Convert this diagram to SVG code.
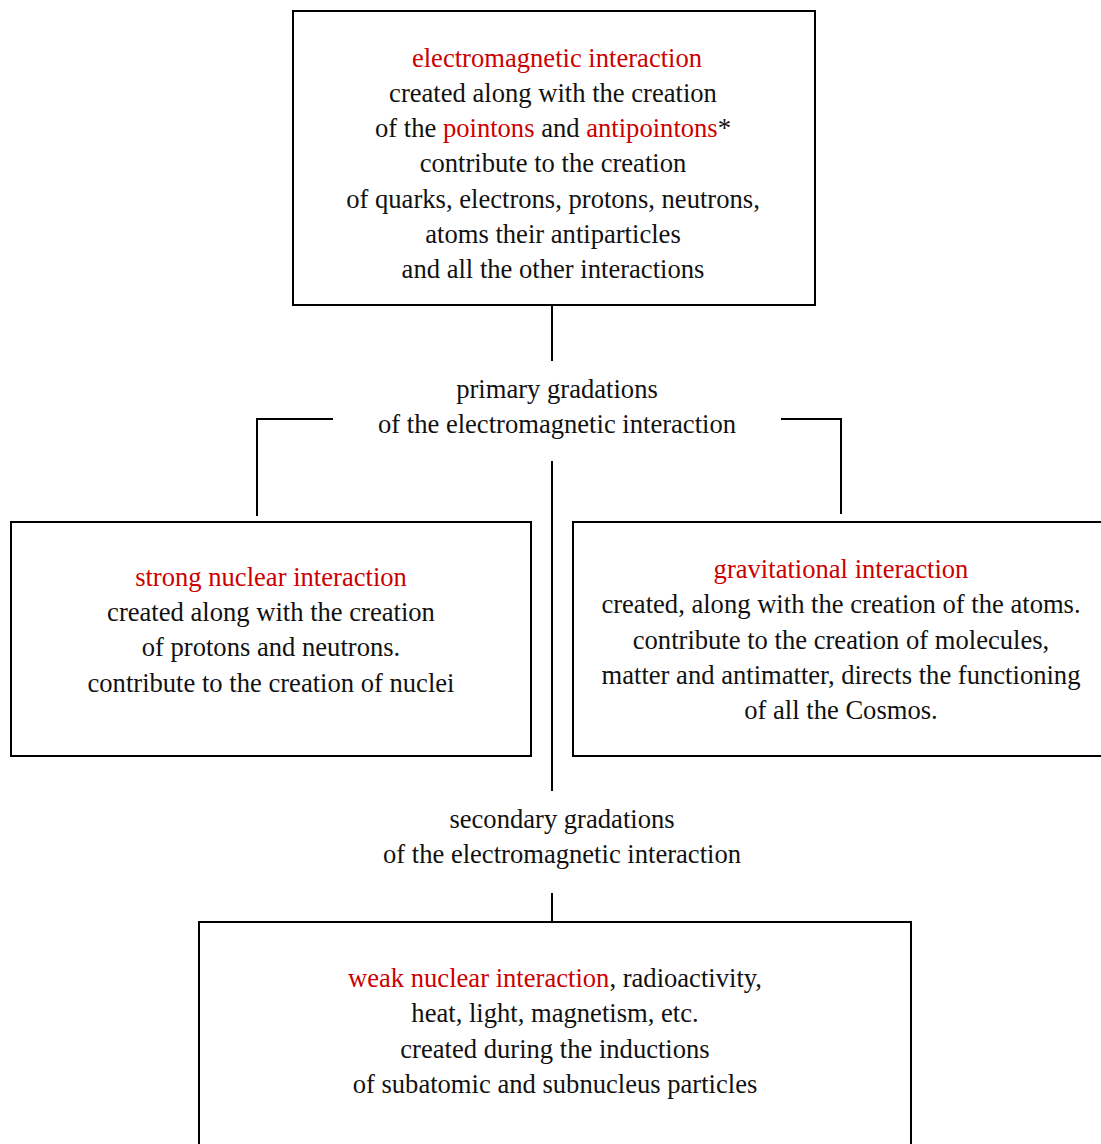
<svg xmlns="http://www.w3.org/2000/svg" width="1101" height="1144" viewBox="0 0 1101 1144">
<style>
text{font-family:"Liberation Serif","Times New Roman",serif;font-size:26.6px;fill:#111;text-anchor:middle}
.r{fill:#cc0000}
.box{fill:#fff;stroke:#000;stroke-width:2}
.ln{stroke:#000;stroke-width:2;fill:none}
</style>
<rect width="1101" height="1144" fill="#fff"/>
<g id="connectors">
<line class="ln" x1="552" y1="305" x2="552" y2="361"/>
<polyline class="ln" points="333,419 257,419 257,516"/>
<polyline class="ln" points="781,419 841,419 841,514"/>
<line class="ln" x1="552" y1="461" x2="552" y2="791"/>
<line class="ln" x1="552" y1="893" x2="552" y2="921"/>
</g>
<g id="em">
<rect class="box" x="293" y="11" width="522" height="294"/>
<text x="557" y="67" class="r">electromagnetic interaction</text>
<text x="553" y="102">created along with the creation</text>
<text x="553" y="137">of the <tspan class="r">pointons</tspan> and <tspan class="r">antipointons</tspan>*</text>
<text x="553" y="172">contribute to the creation</text>
<text x="553" y="208">of quarks, electrons, protons, neutrons,</text>
<text x="553" y="243">atoms their antiparticles</text>
<text x="553" y="278">and all the other interactions</text>
</g>
<g id="primary">
<text x="557" y="398">primary gradations</text>
<text x="557" y="433">of the electromagnetic interaction</text>
</g>
<g id="strong">
<rect class="box" x="11" y="522" width="520" height="234"/>
<text x="271" y="586" class="r">strong nuclear interaction</text>
<text x="271" y="621">created along with the creation</text>
<text x="271" y="656">of protons and neutrons.</text>
<text x="271" y="692">contribute to the creation of nuclei</text>
</g>
<g id="grav">
<rect class="box" x="573" y="522" width="540" height="234"/>
<text x="841" y="578" class="r">gravitational interaction</text>
<text x="841" y="613">created, along with the creation of the atoms.</text>
<text x="841" y="649">contribute to the creation of molecules,</text>
<text x="841" y="684">matter and antimatter, directs the functioning</text>
<text x="841" y="719">of all the Cosmos.</text>
</g>
<g id="secondary">
<text x="562" y="828">secondary gradations</text>
<text x="562" y="863">of the electromagnetic interaction</text>
</g>
<g id="weak">
<rect class="box" x="199" y="922" width="712" height="240"/>
<text x="555" y="987"><tspan class="r">weak nuclear interaction</tspan>, radioactivity,</text>
<text x="555" y="1022">heat, light, magnetism, etc.</text>
<text x="555" y="1058">created during the inductions</text>
<text x="555" y="1093">of subatomic and subnucleus particles</text>
</g>
</svg>
